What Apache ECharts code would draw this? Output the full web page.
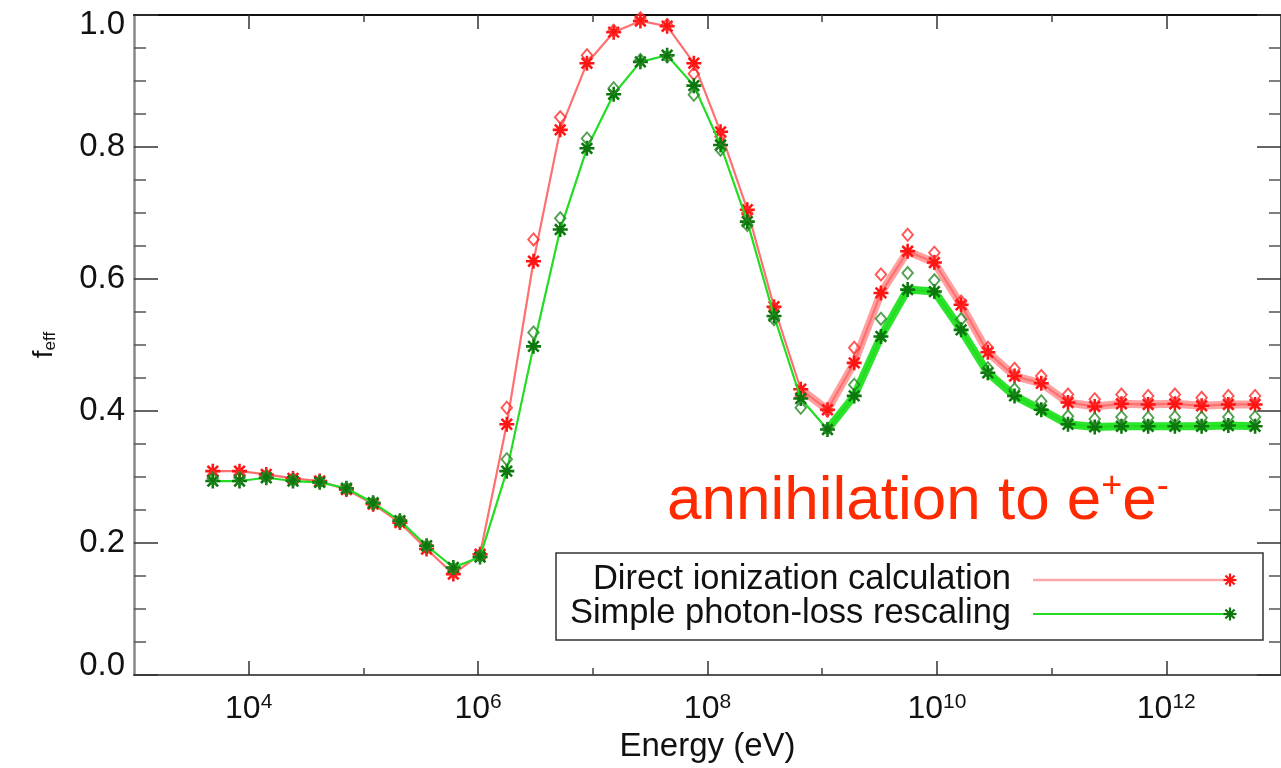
<!DOCTYPE html>
<html>
<head>
<meta charset="utf-8">
<title>f_eff vs energy</title>
<script src="https://cdn.jsdelivr.net/npm/echarts@6/dist/echarts.min.js"></script>
<style>
  html, body { margin: 0; padding: 0; background: #fff; overflow: hidden; }
  #chart { width: 1281px; height: 768px; }
</style>
</head>
<body>
<div id="chart"></div>
<script>
// Injection energy, as log10(E / eV)
const log10Energy = [
  3.687, 3.920, 4.153, 4.386, 4.619, 4.852, 5.085, 5.318, 5.551, 5.784,
  6.017, 6.250, 6.483, 6.716, 6.949, 7.182, 7.415, 7.648, 7.881, 8.114,
  8.347, 8.580, 8.813, 9.046, 9.279, 9.512, 9.745, 9.978, 10.211, 10.444,
  10.677, 10.910, 11.143, 11.376, 11.609, 11.842, 12.075, 12.308, 12.541, 12.774
];

// Direct ionization calculation (asterisks, with line)
const directStar = [
  0.309, 0.309, 0.304, 0.298, 0.294, 0.281, 0.259, 0.231, 0.191, 0.153,
  0.183, 0.380, 0.627, 0.826, 0.927, 0.974, 0.991, 0.983, 0.927, 0.823,
  0.705, 0.558, 0.433, 0.402, 0.473, 0.579, 0.642, 0.625, 0.561, 0.489,
  0.453, 0.442, 0.413, 0.407, 0.411, 0.410, 0.411, 0.408, 0.410, 0.410
];
// Direct ionization calculation (open diamonds)
const directDiamond = [
  0.302, 0.303, 0.302, 0.297, 0.293, 0.281, 0.259, 0.232, 0.192, 0.156,
  0.182, 0.405, 0.660, 0.845, 0.939, 0.976, 0.995, 0.985, 0.911, 0.816,
  0.700, 0.556, 0.423, 0.401, 0.496, 0.607, 0.667, 0.640, 0.566, 0.496,
  0.464, 0.453, 0.425, 0.418, 0.425, 0.423, 0.425, 0.420, 0.423, 0.423
];
// Simple photon-loss rescaling (asterisks, with line)
const photonStar = [
  0.294, 0.294, 0.299, 0.294, 0.292, 0.283, 0.261, 0.234, 0.196, 0.163,
  0.179, 0.309, 0.498, 0.675, 0.798, 0.880, 0.929, 0.939, 0.893, 0.803,
  0.687, 0.544, 0.419, 0.372, 0.423, 0.513, 0.584, 0.581, 0.523, 0.458,
  0.423, 0.402, 0.380, 0.376, 0.377, 0.377, 0.377, 0.377, 0.378, 0.377
];
// Simple photon-loss rescaling (open diamonds)
const photonDiamond = [
  0.298, 0.299, 0.300, 0.295, 0.293, 0.283, 0.261, 0.234, 0.196, 0.162,
  0.180, 0.327, 0.519, 0.692, 0.813, 0.889, 0.932, 0.937, 0.879, 0.796,
  0.682, 0.539, 0.405, 0.373, 0.440, 0.540, 0.609, 0.598, 0.539, 0.465,
  0.433, 0.415, 0.392, 0.388, 0.391, 0.390, 0.391, 0.390, 0.391, 0.391
];

// Axis ticks
const xMajorPowers = [4, 6, 8, 10, 12];
const xMinorPowers = [5, 7, 9, 11];

// First point of the heavy high-energy stroke in each curve
const directBandStart = 22;
const photonBandStart = 23;

const FONT = "'Liberation Sans', Arial, Helvetica, sans-serif";

// 8-armed asterisk and open diamond marker outlines
const ASTERISK = 'path://M8.3,0L11.7,0L11.7,20L8.3,20Z' +
  'M0,8.3L20,8.3L20,11.7L0,11.7Z' +
  'M4.13,1.73L18.27,15.87L15.87,18.27L1.73,4.13Z' +
  'M15.87,1.73L18.27,4.13L4.13,18.27L1.73,15.87Z';
const DIAMOND = 'path://M10,0L20,10L10,20L0,10Z M10,3.8L3.8,10L10,16.2L16.2,10Z';

const pairs = (ys, from) => log10Energy
  .map((x, i) => [x, ys[i]])
  .slice(from || 0);

// legend asterisk built from four strokes
function legendAsterisk(cx, cy, r, color) {
  const d = r * Math.SQRT1_2;
  const segs = [[0, -r, 0, r], [-r, 0, r, 0], [-d, -d, d, d], [-d, d, d, -d]];
  return {
    type: 'group', silent: true, z: 12,
    children: segs.map(s => ({
      type: 'line', silent: true, z: 12,
      shape: { x1: cx + s[0], y1: cy + s[1], x2: cx + s[2], y2: cy + s[3] },
      style: { stroke: color, lineWidth: 2.2 }
    }))
  };
}

const xBase = {
  type: 'value', min: 3, max: 13, interval: 1,
  splitLine: { show: false },
  axisLabel: { show: false }
};

const option = {
  animation: false,
  backgroundColor: '#ffffff',
  grid: { left: 134, top: 15, width: 1150, height: 661, containLabel: false },
  xAxis: [
    Object.assign({}, xBase, {
      position: 'bottom',
      axisLine: { show: true, lineStyle: { color: '#555', width: 2 } },
      axisTick: { show: true, inside: true, length: 14, customValues: xMajorPowers,
        lineStyle: { color: '#333', width: 1.5 } },
      axisLabel: {
        show: true, customValues: xMajorPowers, margin: 17,
        formatter: v => '{b|10}{s|' + v + '}',
        rich: {
          b: { fontFamily: FONT, fontSize: 32, color: '#111', lineHeight: 34 },
          s: { fontFamily: FONT, fontSize: 21, color: '#111', verticalAlign: 'top', lineHeight: 22 }
        }
      },
      name: 'Energy (eV)', nameLocation: 'middle', nameGap: 53,
      nameTextStyle: { fontFamily: FONT, fontSize: 33, color: '#111' }
    }),
    Object.assign({}, xBase, {
      position: 'bottom',
      axisLine: { show: false },
      axisTick: { show: true, inside: true, length: 7, customValues: xMinorPowers,
        lineStyle: { color: '#444', width: 1.5 } }
    }),
    Object.assign({}, xBase, {
      position: 'top',
      axisLine: { show: true, lineStyle: { color: '#111', width: 2 } },
      axisTick: { show: true, inside: true, length: 14, customValues: xMajorPowers,
        lineStyle: { color: '#333', width: 1.5 } }
    }),
    Object.assign({}, xBase, {
      position: 'top',
      axisLine: { show: false },
      axisTick: { show: true, inside: true, length: 7, customValues: xMinorPowers,
        lineStyle: { color: '#444', width: 1.5 } }
    })
  ],
  yAxis: [
    {
      type: 'value', min: 0, max: 1, interval: 0.2, position: 'left',
      splitLine: { show: false },
      axisLine: { show: true, lineStyle: { color: '#888', width: 2.5 } },
      axisTick: { show: true, inside: true, length: 24, lineStyle: { color: '#333', width: 1.5 } },
      minorTick: { show: true, splitNumber: 4, length: 12, lineStyle: { color: '#555', width: 1.5 } },
      axisLabel: {
        show: true, margin: 9,
        formatter: v => {
          const t = v.toFixed(1);
          if (v >= 1) return '{hi|' + t + '}';
          if (v <= 0) return '{lo|' + t + '}';
          return '{n|' + t + '}';
        },
        rich: {
          n: { fontFamily: FONT, fontSize: 33, color: '#111' },
          hi: { fontFamily: FONT, fontSize: 33, color: '#111', padding: [19, 0, 0, 0] },
          lo: { fontFamily: FONT, fontSize: 33, color: '#111', padding: [0, 0, 19, 0] }
        }
      }
    },
    {
      type: 'value', min: 0, max: 1, interval: 0.2, position: 'right',
      splitLine: { show: false },
      axisLine: { show: true, lineStyle: { color: '#555', width: 2 } },
      axisTick: { show: true, inside: true, length: 24, lineStyle: { color: '#333', width: 1.5 } },
      minorTick: { show: true, splitNumber: 4, length: 12, lineStyle: { color: '#555', width: 1.5 } },
      axisLabel: { show: false }
    }
  ],
  series: [
    {
      name: 'direct band', type: 'line', silent: true, z: 2,
      data: pairs(directStar, directBandStart),
      symbol: 'none',
      lineStyle: { color: 'rgba(255,120,120,0.7)', width: 8 }
    },
    {
      name: 'Direct ionization calculation', type: 'line', z: 3,
      data: pairs(directStar),
      symbol: ASTERISK, symbolSize: 15,
      itemStyle: { color: '#ff1414' },
      lineStyle: { color: '#ff7070', width: 2.2 }
    },
    {
      name: 'Direct ionization calculation (diamonds)', type: 'scatter', z: 3,
      data: pairs(directDiamond),
      symbol: DIAMOND, symbolSize: [13, 15],
      itemStyle: { color: '#ff2a2a' }
    },
    {
      name: 'photon band', type: 'line', silent: true, z: 4,
      data: pairs(photonStar, photonBandStart),
      symbol: 'none',
      lineStyle: { color: 'rgba(20,225,20,0.9)', width: 8 }
    },
    {
      name: 'Simple photon-loss rescaling', type: 'line', z: 5,
      data: pairs(photonStar),
      symbol: ASTERISK, symbolSize: 15,
      itemStyle: { color: '#0c770c' },
      lineStyle: { color: '#22dd22', width: 2.2 }
    },
    {
      name: 'Simple photon-loss rescaling (diamonds)', type: 'scatter', z: 5,
      data: pairs(photonDiamond),
      symbol: DIAMOND, symbolSize: [13, 15],
      itemStyle: { color: '#268a26' }
    }
  ],
  graphic: [
    // y-axis title f_eff, reading bottom to top
    {
      type: 'text', x: 44, y: 345, rotation: Math.PI / 2, silent: true,
      style: {
        text: '{f|f}{s|eff}', align: 'center', verticalAlign: 'middle',
        rich: {
          f: { fontFamily: FONT, fontSize: 28, fill: '#111', lineHeight: 30 },
          s: { fontFamily: FONT, fontSize: 17, fill: '#111', verticalAlign: 'bottom', lineHeight: 18 }
        }
      }
    },
    // annotation
    {
      type: 'text', x: 667, y: 502, silent: true,
      style: {
        text: '{a|annihilation to e}{p|+}{a|e}{p|-}', align: 'left', verticalAlign: 'middle',
        rich: {
          a: { fontFamily: FONT, fontSize: 62, fill: '#ff2a00', lineHeight: 66 },
          p: { fontFamily: FONT, fontSize: 36, fill: '#ff2a00', verticalAlign: 'top', lineHeight: 38 }
        }
      }
    },
    // legend box
    {
      type: 'rect', silent: true, z: 10,
      shape: { x: 556, y: 553, width: 707, height: 87 },
      style: { fill: '#ffffff', stroke: '#333', lineWidth: 1.5 }
    },
    {
      type: 'text', x: 1011, y: 579, silent: true, z: 11,
      style: { text: 'Direct ionization calculation', fontFamily: FONT, fontSize: 34.5,
        fill: '#111', align: 'right', verticalAlign: 'middle' }
    },
    {
      type: 'text', x: 1011, y: 613, silent: true, z: 11,
      style: { text: 'Simple photon-loss rescaling', fontFamily: FONT, fontSize: 34.5,
        fill: '#111', align: 'right', verticalAlign: 'middle' }
    },
    {
      type: 'line', silent: true, z: 11,
      shape: { x1: 1033, y1: 580, x2: 1230, y2: 580 },
      style: { stroke: '#ffa6a6', lineWidth: 2.5 }
    },
    {
      type: 'line', silent: true, z: 11,
      shape: { x1: 1033, y1: 614, x2: 1230, y2: 614 },
      style: { stroke: '#22dd22', lineWidth: 2 }
    },
    legendAsterisk(1230, 580, 6.5, '#ff1414'),
    legendAsterisk(1230, 614, 6.5, '#0c770c')
  ]
};

const chart = echarts.init(document.getElementById('chart'), null, { renderer: 'canvas' });
chart.setOption(option);
</script>
</body>
</html>
